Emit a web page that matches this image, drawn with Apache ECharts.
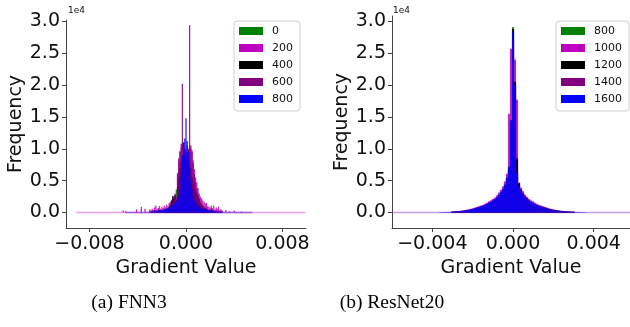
<!DOCTYPE html>
<html>
<head>
<meta charset="utf-8">
<script src="https://cdn.jsdelivr.net/npm/echarts@6/dist/echarts.min.js"></script>
<style>
  html, body { margin: 0; padding: 0; background: #fff; }
  #chart { width: 630px; height: 327px; }
</style>
</head>
<body>
<div id="chart"></div>
<script>
const font = "DejaVu Sans";
const seriesColors = ["#008000", "#bf00bf", "#000000", "#800080", "#0000ff"];

// (a) FNN3: histogram bins of width 1e-4 from -0.0030 to 0.0030
const fnnBinStart = -0.003;
const fnnBinWidth = 0.0001;
const fnnLegend = ["0", "200", "400", "600", "800"];
const fnn0 = [
  0, 0, 0, 0, 0, 0, 0, 0, 0, 0,
  0, 0, 0, 0, 200, 300, 500, 800, 1200, 1600,
  2000, 2400, 3600, 3500, 4500, 5500, 6500, 7500, 8000, 8500,
  8500,
  8000, 7500, 7000, 6000, 5000, 4000, 3000, 2500, 2000, 1500,
  1200, 1000, 800, 600, 400, 300, 200, 100, 0, 0,
  0, 0, 0, 0, 0, 0, 0, 0, 0, 0,
];
const fnn200 = [
  500, 300, 600, 400, 800, 1100, 500, 700, 1000, 600,
  900, 700, 1100, 800, 1200, 1000, 1500, 1700, 2000, 2100,
  2600, 3000, 2400, 5800, 8000, 9700, 10200, 10800, 9500, 8000,
  7000,
  8200, 9600, 10500, 10000, 9800, 8200, 6800, 5500, 4700, 3800,
  3000, 2500, 2200, 1900, 1700, 1400, 1500, 1000, 900, 800,
  1100, 700, 1100, 500, 800, 600, 900, 400, 500, 300,
];
const fnn400 = [
  0, 0, 200, 0, 300, 0, 200, 0, 400, 300,
  300, 200, 500, 400, 600, 500, 900, 1200, 1800, 2600,
  2400, 2800, 2000, 4000, 5500, 7000, 8000, 9000, 9500, 9800,
  9500,
  9000, 8500, 8000, 7000, 5500, 4500, 3600, 3000, 3200, 2500,
  2000, 1500, 1200, 1000, 800, 600, 500, 400, 300, 300,
  200, 300, 0, 200, 0, 100, 0, 0, 100, 0,
];
const fnn600 = [
  200, 0, 300, 200, 400, 300, 200, 500, 300, 200,
  400, 300, 500, 400, 600, 500, 600, 900, 1100, 1500,
  2000, 2700, 2200, 6200, 8500, 9500, 10800, 20200, 11000, 10000,
  9000,
  10500, 10000, 29400, 10500, 9500, 7800, 6000, 4800, 3800, 2900,
  2200, 1700, 1400, 1100, 900, 700, 800, 500, 400, 500,
  600, 300, 400, 200, 300, 200, 300, 100, 200, 100,
];
const fnn800 = [
  100, 100, 200, 100, 200, 300, 200, 300, 400, 300,
  400, 400, 500, 500, 600, 700, 800, 900, 1000, 1200,
  1300, 1500, 1700, 2000, 2500, 3500, 6000, 9000, 11000, 11600,
  14800,
  11200, 9500, 7000, 5000, 3500, 2600, 2000, 1500, 1200, 1000,
  900, 800, 700, 600, 600, 500, 500, 400, 400, 300,
  300, 300, 200, 200, 200, 100, 100, 100, 100, 100,
];
// sparse outlier bins of the 200-step histogram outside the core
const fnnTail200 = [
  [-0.0052, 300], [-0.005, 250], [-0.0041, 500], [-0.0037, 900], [-0.0034, 600],
  [0.0033, 400], [0.0036, 200], [0.004, 300], [0.0046, 150],
];
const fnnSpan200 = [-0.0091, 0.0099];
const fnnSpan800 = [-0.005, 0.0055];

// (b) ResNet20: bins of width 1e-4 from -0.0030 to 0.0030
const resBinStart = -0.003;
const resBinWidth = 0.0001;
const resLegend = ["800", "1000", "1200", "1400", "1600"];
const res800 = [
  110, 130, 140, 170, 200, 230, 270, 320, 370, 430,
  500, 590, 680, 770, 860, 950, 1080, 1220, 1400, 1530,
  1710, 1890, 2160, 2520, 2880, 3330, 3960, 4950, 6500, 13000,
  29100,
  18000, 5600, 3800, 3150, 2700, 2250, 1980, 1710, 1530, 1400,
  1220, 1080, 950, 860, 770, 680, 590, 500, 430, 370,
  320, 270, 230, 200, 170, 140, 130, 110, 100, 90,
];
const res1000 = [
  170, 190, 220, 250, 280, 330, 370, 430, 490, 570,
  660, 760, 870, 980, 1090, 1200, 1360, 1530, 1750, 1910,
  2130, 2350, 2680, 3120, 3560, 4110, 4880, 6100, 15500, 25700,
  26000,
  24000, 17700, 4700, 3900, 3340, 2790, 2460, 2130, 1910, 1750,
  1530, 1360, 1200, 1090, 980, 870, 760, 660, 570, 490,
  430, 370, 330, 280, 250, 220, 190, 170, 160, 150,
];
const res1200 = [
  110, 130, 150, 180, 210, 250, 290, 340, 400, 460,
  540, 630, 730, 820, 920, 1020, 1160, 1310, 1500, 1650,
  1840, 2040, 2330, 2720, 3100, 3590, 4270, 5340, 7000, 14000,
  28800,
  20500, 8500, 4600, 3600, 2950, 2450, 2150, 1850, 1650, 1500,
  1310, 1160, 1020, 920, 820, 730, 630, 540, 470, 400,
  340, 290, 250, 210, 180, 160, 140, 120, 110, 100,
];
const res1400 = [
  110, 130, 150, 180, 210, 250, 290, 330, 390, 460,
  530, 620, 710, 810, 900, 1000, 1140, 1280, 1470, 1620,
  1800, 2000, 2280, 2660, 3040, 3520, 4180, 5230, 6840, 13800,
  27000,
  19000, 5900, 4000, 3330, 2850, 2380, 2090, 1800, 1620, 1470,
  1280, 1140, 1000, 900, 810, 710, 620, 530, 460, 390,
  330, 290, 250, 210, 180, 150, 130, 110, 100, 90,
];
const res1600 = [
  120, 140, 160, 190, 220, 260, 300, 350, 410, 480,
  560, 650, 750, 850, 950, 1050, 1200, 1350, 1550, 1700,
  1900, 2100, 2400, 2800, 3200, 3700, 4400, 5500, 7200, 14500,
  28300,
  20000, 6200, 4200, 3500, 3000, 2500, 2200, 1900, 1700, 1550,
  1350, 1200, 1050, 950, 850, 750, 650, 560, 480, 410,
  350, 300, 260, 220, 190, 160, 140, 120, 110, 100,
];
// thin tail bins of the 1600-step histogram just outside the core
const resTail1600 = [
  [-0.0036, 50], [-0.0035, 60], [-0.0034, 70], [-0.0033, 80], [-0.0032, 90], [-0.0031, 100],
  [0.0031, 90], [0.0032, 80], [0.0033, 70], [0.0034, 60], [0.0035, 50], [0.0036, 40],
];
const resSpan = [-0.006, 0.0058];

const fnnTicksX = [-0.008, 0, 0.008];
const resTicksX = [-0.004, 0, 0.004];
const ticksY = [0, 5000, 10000, 15000, 20000, 25000, 30000];


function binned(values, start, width) {
  return values.map((v, i) => [+(start + i * width).toFixed(5), v]);
}

const fmtX = (v) => (v < 0 ? "\u2212" : "") + Math.abs(v).toFixed(3);
const fmtY = (v) => (v / 1e4).toFixed(1);
const axisColor = "#444";
const textColor = "#111";

function xAxis(gridIndex, min, max, ticks) {
  return {
    type: "value", gridIndex, min, max,
    name: "Gradient Value", nameLocation: "middle", nameGap: 28,
    nameTextStyle: { fontSize: 19, color: textColor, fontFamily: font },
    axisLine: { show: true, onZero: false, lineStyle: { color: axisColor, width: 1 } },
    axisTick: { show: true, length: 4, customValues: ticks, lineStyle: { color: axisColor } },
    axisLabel: { customValues: ticks, formatter: fmtX, fontSize: 19, color: textColor, margin: 7, fontFamily: font },
    splitLine: { show: false },
  };
}

function yAxis(gridIndex, min, max) {
  return {
    type: "value", gridIndex, min, max,
    name: "Frequency", nameLocation: "middle", nameGap: 40,
    nameTextStyle: { fontSize: 19, color: textColor, fontFamily: font },
    axisLine: { show: true, onZero: false, lineStyle: { color: axisColor, width: 1 } },
    axisTick: { show: true, length: 4, customValues: ticksY, lineStyle: { color: axisColor } },
    axisLabel: { customValues: ticksY, formatter: fmtY, fontSize: 19, color: textColor, margin: 6, fontFamily: font },
    splitLine: { show: false },
  };
}

function bars(prefix, labels, arrays, axisIndex, start, width, barWidth) {
  return arrays.map((values, i) => ({
    name: prefix + "|" + labels[i],
    type: "bar",
    xAxisIndex: axisIndex, yAxisIndex: axisIndex,
    data: binned(values, start, width),
    barWidth, barGap: "-100%",
    itemStyle: { color: seriesColors[i], opacity: 0.85 },
    emphasis: { disabled: true },
  }));
}

function sparseBars(name, data, axisIndex, color, barWidth) {
  return {
    name, type: "bar", xAxisIndex: axisIndex, yAxisIndex: axisIndex,
    data, barWidth, barGap: "-100%",
    itemStyle: { color, opacity: 0.85 },
    emphasis: { disabled: true },
  };
}

function baseline(span, axisIndex, color, opacity) {
  return {
    type: "line", xAxisIndex: axisIndex, yAxisIndex: axisIndex,
    data: [[span[0], 0], [span[1], 0]],
    showSymbol: false, silent: true,
    lineStyle: { color, width: 1.3, opacity },
    z: 1,
  };
}

function legend(prefix, labels, left, top) {
  return {
    data: labels.map((l) => prefix + "|" + l),
    formatter: (name) => name.split("|")[1],
    orient: "vertical", left, top,
    selectedMode: false,
    icon: "rect", itemWidth: 24, itemHeight: 8, itemGap: 5,
    padding: [4, 7, 6, 5],
    textStyle: { fontSize: 11, lineHeight: 12, color: textColor, fontFamily: font, padding: [0, 0, 0, 4] },
    itemStyle: { opacity: 1 },
    backgroundColor: "#fff", borderColor: "#d0d0d0", borderWidth: 1, borderRadius: 3,
  };
}

const fnnSeries = bars("fnn", fnnLegend, [fnn0, fnn200, fnn400, fnn600, fnn800], 0, fnnBinStart, fnnBinWidth, 1.3);
fnnSeries.splice(2, 0, sparseBars("fnn-tail", fnnTail200, 0, seriesColors[1], 1.3));

const resSeries = bars("res", resLegend, [res800, res1000, res1200, res1400, res1600], 1, resBinStart, resBinWidth, 2.1);
resSeries.push(sparseBars("res-tail", resTail1600, 1, seriesColors[4], 2.1));

const chart = echarts.init(document.getElementById("chart"), null, { renderer: "canvas" });
chart.setOption({
  animation: false,
  backgroundColor: "#fff",
  textStyle: { fontFamily: font },
  grid: [
    { left: 66, top: 20, width: 240, height: 208 },
    { left: 392, top: 16, width: 238, height: 212 },
  ],
  xAxis: [xAxis(0, -0.00995, 0.00995, fnnTicksX), xAxis(1, -0.006, 0.0058, resTicksX)],
  yAxis: [yAxis(0, -2432, 30204), yAxis(1, -2432, 30832)],
  legend: [legend("fnn", fnnLegend, 234, 21), legend("res", resLegend, 556, 21)],
  series: [
    baseline(fnnSpan200, 0, "#cc33cc", 0.45),
    baseline(fnnSpan800, 0, "#6a2bd0", 0.6),
    ...fnnSeries,
    baseline(resSpan, 1, "#8a40d0", 0.5),
    ...resSeries,
  ],
  graphic: [
    { type: "text", x: 68, y: 11, style: { text: "1e4", fontSize: 9, fontFamily: font, fill: textColor, verticalAlign: "middle" } },
    { type: "text", x: 393, y: 11, style: { text: "1e4", fontSize: 9, fontFamily: font, fill: textColor, verticalAlign: "middle" } },
    { type: "text", x: 129, y: 303, style: { text: "(a) FNN3", fontSize: 19.5, fontFamily: "Liberation Serif", fill: "#000", align: "center", verticalAlign: "middle" } },
    { type: "text", x: 392, y: 303, style: { text: "(b) ResNet20", fontSize: 19.5, fontFamily: "Liberation Serif", fill: "#000", align: "center", verticalAlign: "middle" } },
  ],
});
</script>
</body>
</html>
